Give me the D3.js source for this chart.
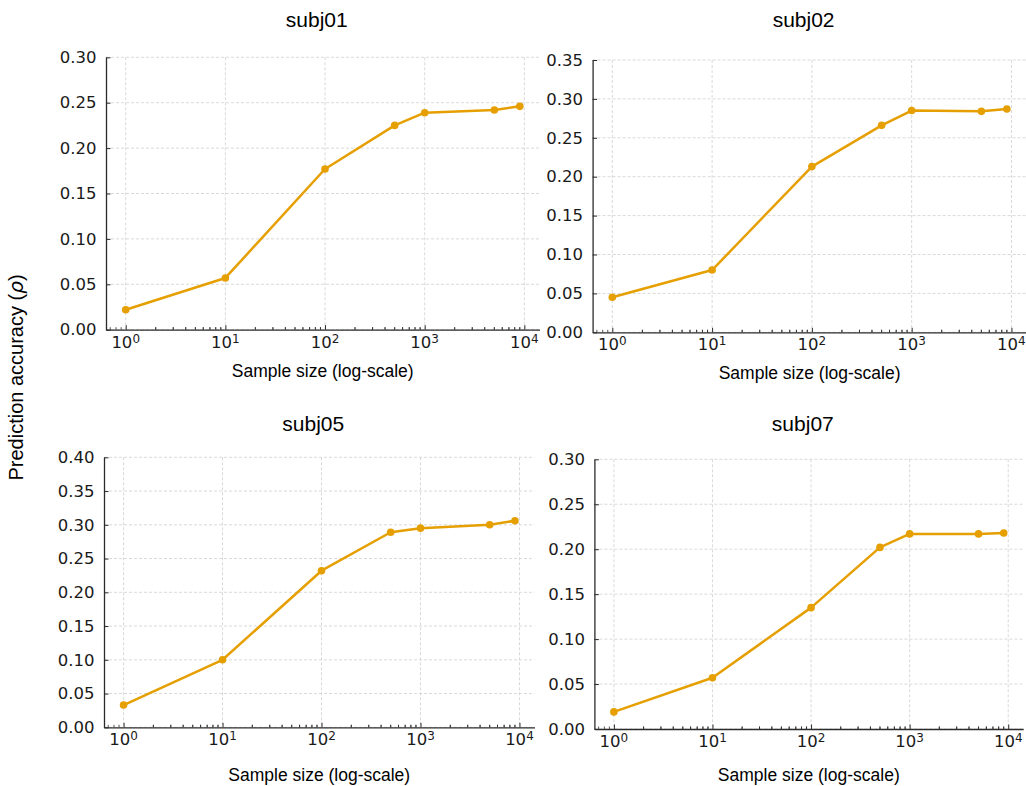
<!DOCTYPE html>
<html>
<head>
<meta charset="utf-8">
<script src="https://d3js.org/d3.v7.min.js"></script>
<style>
  html, body { margin: 0; padding: 0; background: #fff; overflow: hidden; }
  svg { display: block; }
</style>
</head>
<body>
<div id="main_div"></div>
<script>
// ---- data ----
var sampleSizes = [1, 10, 100, 500, 1000, 5000, 9000];
var subjects = ["subj01", "subj02", "subj05", "subj07"];
var acc_subj01 = [0.022, 0.057, 0.177, 0.225, 0.239, 0.242, 0.246];
var acc_subj02 = [0.045, 0.080, 0.213, 0.266, 0.285, 0.284, 0.287];
var acc_subj05 = [0.033, 0.100, 0.232, 0.289, 0.295, 0.300, 0.306];
var acc_subj07 = [0.019, 0.057, 0.135, 0.202, 0.217, 0.217, 0.218];
var yMaxes = [0.30, 0.35, 0.40, 0.30];
var yTickStep = 0.05;
var xTickExponents = [0, 1, 2, 3, 4];

var accuracies = [acc_subj01, acc_subj02, acc_subj05, acc_subj07];

// ---- layout ----
var WIDTH = 1026, HEIGHT = 786;
var LINE_COLOR = "#E69F00";
var AXIS_COLOR = "#2b2b2b";
var TEXT_COLOR = "#1a1a1a";
var GRID_COLOR = "#cfcfcf";

// left, top, width, height, title baseline, xlabel offset below axis
var panels = [
  {left: 106,   top: 57.3,  width: 433.5, height: 272.4, titleY: 26.7,  xlabGap: 47},
  {left: 592.6, top: 60,    width: 434,   height: 272.3, titleY: 26.7,  xlabGap: 47},
  {left: 104,   top: 457.3, width: 430.5, height: 270,   titleY: 430.7, xlabGap: 54},
  {left: 594.4, top: 459.3, width: 428.8, height: 269.7, titleY: 430.7, xlabGap: 52}
];

var svg = d3.select("#main_div").append("svg")
    .attr("width", WIDTH)
    .attr("height", HEIGHT);

svg.append("rect")
    .attr("width", WIDTH)
    .attr("height", HEIGHT)
    .style("fill", "white");

// matplotlib-like 5% margin in log space
var logMin = Math.log10(d3.min(sampleSizes));
var logMax = Math.log10(d3.max(sampleSizes));
var logPad = (logMax - logMin) * 0.05;
var xDomain = [Math.pow(10, logMin - logPad), Math.pow(10, logMax + logPad)];

function drawPanel(i) {
  var p = panels[i];
  var g = svg.append("g")
      .attr("transform", "translate(" + p.left + "," + p.top + ")");

  var x = d3.scaleLog().domain(xDomain).range([0, p.width]);
  var y = d3.scaleLinear().domain([0, yMaxes[i]]).range([p.height, 0]);

  var yTicks = d3.range(0, yMaxes[i] + 1e-9, yTickStep);
  var xMajor = xTickExponents.map(function(e) { return Math.pow(10, e); });
  var xMinor = [];
  xTickExponents.forEach(function(e) {
    for (var m = 2; m <= 9; m++) {
      var v = m * Math.pow(10, e - 1);
      if (v >= xDomain[0] && v <= xDomain[1]) xMinor.push(v);
    }
    for (var k = 2; k <= 9; k++) {
      var w = k * Math.pow(10, e);
      if (w >= xDomain[0] && w <= xDomain[1] && xMinor.indexOf(w) < 0) xMinor.push(w);
    }
  });

  // grid
  g.append("g").selectAll("line.hgrid")
      .data(yTicks).enter()
    .append("line")
      .attr("x1", 0).attr("x2", p.width)
      .attr("y1", function(d) { return y(d); })
      .attr("y2", function(d) { return y(d); })
      .style("stroke", GRID_COLOR)
      .style("stroke-width", 0.8)
      .style("stroke-dasharray", "3,2");

  g.append("g").selectAll("line.vgrid")
      .data(xMajor).enter()
    .append("line")
      .attr("x1", function(d) { return x(d); })
      .attr("x2", function(d) { return x(d); })
      .attr("y1", 0).attr("y2", p.height)
      .style("stroke", GRID_COLOR)
      .style("stroke-width", 0.8)
      .style("stroke-dasharray", "3,2");

  // y axis (ticks pointing inward)
  var yAxis = g.append("g")
      .call(d3.axisLeft(y).tickValues(yTicks).tickFormat(d3.format(".2f"))
              .tickSizeInner(-4.5).tickSizeOuter(0).tickPadding(9.5));
  yAxis.select(".domain").style("stroke", AXIS_COLOR).style("stroke-width", 1.3);
  yAxis.selectAll(".tick line").style("stroke", AXIS_COLOR).style("stroke-width", 1);
  yAxis.selectAll(".tick text")
      .style("font-family", "'DejaVu Sans'")
      .style("font-size", "16.5px")
      .style("fill", TEXT_COLOR);

  // x axis major ticks
  var xAxis = g.append("g")
      .attr("transform", "translate(0," + p.height + ")")
      .call(d3.axisBottom(x).tickValues(xMajor).tickFormat("")
              .tickSizeInner(-4.5).tickSizeOuter(0));
  xAxis.select(".domain").style("stroke", AXIS_COLOR).style("stroke-width", 1.3);
  xAxis.selectAll(".tick line").style("stroke", AXIS_COLOR).style("stroke-width", 1);

  // x axis minor ticks
  g.append("g")
      .attr("transform", "translate(0," + p.height + ")")
    .selectAll("line")
      .data(xMinor).enter()
    .append("line")
      .attr("x1", function(d) { return x(d); })
      .attr("x2", function(d) { return x(d); })
      .attr("y1", 0).attr("y2", -2.5)
      .style("stroke", AXIS_COLOR)
      .style("stroke-width", 0.8);

  // x tick labels as 10^n
  var xLabels = g.append("g").selectAll("text")
      .data(xTickExponents).enter()
    .append("text")
      .attr("x", function(d) { return x(Math.pow(10, d)); })
      .attr("y", p.height + 18)
      .attr("text-anchor", "middle")
      .style("font-family", "'DejaVu Sans'")
      .style("font-size", "16.5px")
      .style("fill", TEXT_COLOR);
  xLabels.append("tspan").text("10");
  xLabels.append("tspan")
      .attr("dy", -5)
      .style("font-size", "12px")
      .text(function(d) { return d; });

  // series line and markers
  var pts = sampleSizes.map(function(s, j) { return [s, accuracies[i][j]]; });
  var line = d3.line()
      .x(function(d) { return x(d[0]); })
      .y(function(d) { return y(d[1]); });

  g.append("path")
      .datum(pts)
      .attr("d", line)
      .style("fill", "none")
      .style("stroke", LINE_COLOR)
      .style("stroke-width", 2.5)
      .style("stroke-linejoin", "round");

  g.append("g").selectAll("circle")
      .data(pts).enter()
    .append("circle")
      .attr("cx", function(d) { return x(d[0]); })
      .attr("cy", function(d) { return y(d[1]); })
      .attr("r", 3.8)
      .style("fill", LINE_COLOR);

  // title
  g.append("text")
      .attr("x", p.width / 2 - 6)
      .attr("y", p.titleY - p.top)
      .attr("text-anchor", "middle")
      .style("font-family", "'Liberation Sans', Arial, sans-serif")
      .style("font-size", "21px")
      .style("fill", "#000")
      .text(subjects[i]);

  // x label
  g.append("text")
      .attr("x", p.width / 2)
      .attr("y", p.height + p.xlabGap)
      .attr("text-anchor", "middle")
      .style("font-family", "'Liberation Sans', Arial, sans-serif")
      .style("font-size", "17.5px")
      .style("fill", "#000")
      .text("Sample size (log-scale)");
}

function initialize() {
  for (var i = 0; i < subjects.length; i++) {
    drawPanel(i);
  }

  // shared y label
  var ylab = svg.append("text")
      .attr("transform", "translate(23,377.5) rotate(-90)")
      .attr("text-anchor", "middle")
      .style("font-family", "'Liberation Sans', Arial, sans-serif")
      .style("font-size", "20px")
      .style("fill", "#000");
  ylab.append("tspan").text("Prediction accuracy (");
  ylab.append("tspan")
      .style("font-family", "'DejaVu Sans'")
      .style("font-style", "italic")
      .text("\u03C1");
  ylab.append("tspan").text(")");
}

initialize();
</script>
</body>
</html>
